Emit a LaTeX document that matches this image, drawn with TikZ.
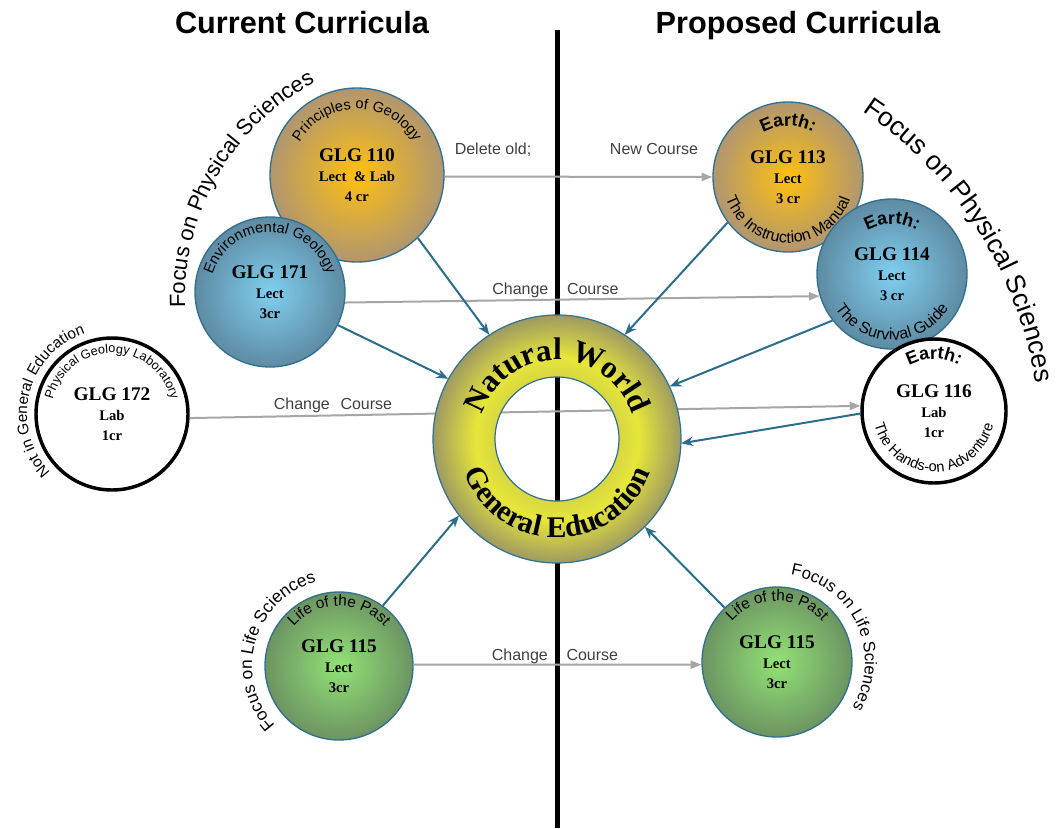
\documentclass[tikz,border=0pt]{standalone}
\usepackage{fontspec}
\setmainfont{Liberation Serif}
\setsansfont{Liberation Sans}
\newfontfamily\lsans{Liberation Sans}
\usetikzlibrary{arrows.meta,decorations.text,calc}

\definecolor{orgIn}{HTML}{FFC010}
\definecolor{orgOut}{HTML}{B09670}
\definecolor{bluIn}{HTML}{80CFF0}
\definecolor{bluOut}{HTML}{5E8BA3}
\definecolor{grnIn}{HTML}{92E276}
\definecolor{grnOut}{HTML}{6C9462}
\definecolor{ringY}{HTML}{E6E63A}
\definecolor{ringO}{HTML}{9E9A62}
\definecolor{bordc}{HTML}{31708F}
\definecolor{feedc}{HTML}{2B6D8C}
\definecolor{chgc}{HTML}{A6A6A6}
\definecolor{lblc}{HTML}{404040}

\pgfdeclareradialshading{ringshade}{\pgfpoint{0bp}{0bp}}{color(0bp)=(ringY); color(12.5bp)=(ringY!80!ringO); color(16.5bp)=(ringY); color(25bp)=(ringO); color(50bp)=(ringO)}

% curved text: #1 centre, #2 radius, #3 start angle, #4 end angle, #5 font, #6 text
\newcommand{\ArcLabel}[6]{%
  \path[decorate, decoration={text along path, text align=center, text={|#5|#6}}]
    ($(#1)+(#3:#2)$) arc[start angle=#3, end angle=#4, radius=#2];}

\begin{document}
\begin{tikzpicture}[x=0.75pt,y=0.75pt,
  course/.style={circle, inner sep=0pt, draw=bordc, line width=1pt, align=center,
    font=\fontsize{11}{15}\selectfont\bfseries},
  labcourse/.style={circle, inner sep=0pt, draw=black, line width=2.6pt, fill=white, align=center,
    font=\fontsize{11}{15}\selectfont\bfseries},
  orangeball/.style={inner color=orgIn, outer color=orgOut},
  blueball/.style={inner color=bluIn, outer color=bluOut},
  greenball/.style={inner color=grnIn, outer color=grnOut},
  feed/.style={draw=feedc, line width=1.5pt, -{Stealth[length=9pt,width=7pt]}},
  change/.style={draw=chgc, line width=1.5pt, -{Triangle[length=8pt,width=6pt]}},
  lbl/.style={font=\lsans\fontsize{12}{14}\selectfont, text=lblc, anchor=base, inner sep=0pt},
  heading/.style={font=\lsans\bfseries\fontsize{23}{26}\selectfont, anchor=base, inner sep=0pt},
  divider/.style={line width=3.75pt, draw=black}
]
\useasboundingbox (0,0) rectangle (1059,-828);
\fill[white] (0,0) rectangle (1059,-828);

% divider
\coordinate (vtop) at (557,-30);
\coordinate (vbot) at (557,-828);
\draw[divider] (vtop) -- (vbot);

% headings
\node[heading] (hcur) at (302,-33) {Current Curricula};
\node[heading] (hpro) at (798,-33) {Proposed Curricula};

% ring placeholder
\node[circle, inner sep=0pt, minimum size=186pt] (ring) at (557,-439) {};

% outer arcs centres
\coordinate (fpsL) at (430,-299);
\coordinate (fpsR) at (640,-444);

% ---- current side ----
\node[course, orangeball, minimum size=130.5pt] (g110) at (357,-175)
  {{\fontsize{14.5}{15}\selectfont GLG 110}\\Lect \ \& Lab\\4 cr};
\ArcLabel{g110.center}{66}{160}{20}{\lsans\fontsize{11}{13}\selectfont}{Principles of Geology}

\node[course, blueball, minimum size=112.5pt] (g171) at (270,-292)
  {{\fontsize{14.5}{15}\selectfont GLG 171}\\Lect\\3cr};
\ArcLabel{g171.center}{60}{172}{8}{\lsans\fontsize{11}{13}\selectfont}{Environmental Geology}

\node[labcourse, minimum size=114pt] (g172) at (112,-414)
  {{\fontsize{14.5}{15}\selectfont GLG 172}\\Lab\\1cr};
\ArcLabel{g172.center}{61}{172}{8}{\lsans\fontsize{9.5}{11}\selectfont}{Physical Geology Laboratory}

\node[course, greenball, minimum size=111pt] (g115l) at (339,-666)
  {{\fontsize{14.5}{15}\selectfont GLG 115}\\Lect\\3cr};
\ArcLabel{g115l.center}{60}{150}{30}{\lsans\fontsize{11.5}{13}\selectfont}{Life of the Past}

% ---- proposed side ----
\node[course, orangeball, minimum size=112.5pt] (g113) at (788,-177)
  {{\fontsize{14.5}{15}\selectfont GLG 113}\\Lect\\3 cr};
\ArcLabel{g113.center}{51}{150}{30}{\lsans\bfseries\fontsize{13.5}{15}\selectfont}{Earth:}
\ArcLabel{g113.center}{66}{190}{350}{\lsans\fontsize{12}{14}\selectfont}{The Instruction Manual}

\node[course, blueball, minimum size=112.5pt] (g114) at (892,-274)
  {{\fontsize{14.5}{15}\selectfont GLG 114}\\Lect\\3 cr};
\ArcLabel{g114.center}{50}{150}{30}{\lsans\bfseries\fontsize{13.5}{15}\selectfont}{Earth:}
\ArcLabel{g114.center}{66}{190}{350}{\lsans\fontsize{12}{14}\selectfont}{The Survival Guide}

\node[labcourse, minimum size=108pt] (g116) at (934,-411)
  {{\fontsize{14.5}{15}\selectfont GLG 116}\\Lab\\1cr};
\ArcLabel{g116.center}{52}{150}{30}{\lsans\bfseries\fontsize{13.5}{15}\selectfont}{Earth:}
\ArcLabel{g116.center}{61}{190}{350}{\lsans\fontsize{11}{13}\selectfont}{The Hands-on Adventure}

\node[course, greenball, minimum size=112.5pt] (g115r) at (777,-662)
  {{\fontsize{14.5}{15}\selectfont GLG 115}\\Lect\\3cr};
\ArcLabel{g115r.center}{61}{150}{30}{\lsans\fontsize{11.5}{13}\selectfont}{Life of the Past}

% ---- outer curved captions ----
\ArcLabel{fpsL}{245}{192}{108}{\lsans\fontsize{16.5}{18}\selectfont}{Focus on Physical Sciences}
\ArcLabel{fpsR}{400}{64}{1}{\lsans\fontsize{20}{22}\selectfont}{Focus on Physical Sciences}
\ArcLabel{g172.center}{85}{243}{89}{\lsans\fontsize{11.5}{14}\selectfont}{Not in General Education}
\ArcLabel{g115l.center}{87}{240}{88}{\lsans\fontsize{13}{15}\selectfont}{Focus on Life Sciences}
\ArcLabel{g115r.center}{88}{90}{-40}{\lsans\fontsize{12.5}{14}\selectfont}{Focus on Life Sciences}

% ---- change connectors ----
\draw[change] (g110.-1) -- (g113.180);
\draw[change] (g171.-8) -- (g114.197);
\draw[change] (g172.-3) -- (g116.176);
\draw[change] (g115l.1) -- (g115r.182);

\node[lbl] (l1a) at (493,-154) {Delete old;};
\node[lbl] (l1b) at (654,-154) {New Course};
\node[lbl] (l2) at (555.5,-294) {Change\hspace{14pt}Course};
\node[lbl] (l3) at (333,-409) {Change\hspace{8pt}Course};
\node[lbl] (l4) at (555,-660) {Change\hspace{14pt}Course};

% ---- feeds into general education ----
\draw[feed] (g110.-46) -- (ring.123);
\draw[feed] (g171.-26) -- (ring.151);
\draw[feed] (g115l.54) -- (ring.218);
\draw[feed] (g113.-143) -- (ring.57);
\draw[feed] (g114.-142) -- (ring.25);
\draw[feed] (g116.182) -- (ring.-2);
\draw[feed] (g115r.134) -- (ring.-45);

% ---- ring ----
\shade[even odd rule, shading=ringshade] (ring.center) circle[radius=124] (ring.center) circle[radius=62];
\draw[bordc, line width=0.9pt] (ring.center) circle[radius=124] (ring.center) circle[radius=62];
\ArcLabel{ring.center}{79}{170}{10}{\rmfamily\bfseries\fontsize{23.5}{25}\selectfont}{Natural World}
\ArcLabel{ring.center}{99}{190}{350}{\rmfamily\bfseries\fontsize{22.5}{25}\selectfont}{General Education}
\end{tikzpicture}
\end{document}
